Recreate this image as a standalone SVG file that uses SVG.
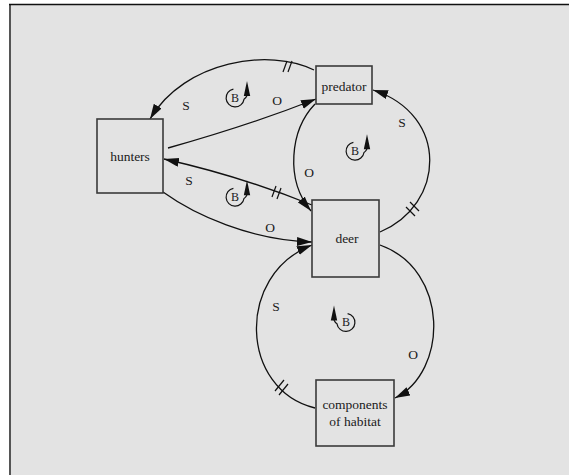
<svg xmlns="http://www.w3.org/2000/svg" width="569" height="475" viewBox="0 0 569 475">
  <style>
    .node rect { fill: none; stroke: #3a3a3a; stroke-width: 1.6; }
    .node text, .lbl { font-family: "Liberation Serif", "Times New Roman", serif; font-size: 13.5px; fill: #1a1a1a; text-anchor: middle; }
    .link { fill: none; stroke: #111; stroke-width: 1.3; marker-end: url(#head); }
    .hash { stroke: #111; stroke-width: 1.2; }
    .loop text { font-family: "Liberation Serif", "Times New Roman", serif; font-size: 12px; fill: #1a1a1a; text-anchor: middle; }
  </style>
  <defs>
    <marker id="head" markerUnits="userSpaceOnUse" markerWidth="16" markerHeight="10" refX="15" refY="4.5" orient="auto">
      <path d="M0,0 L15,4.5 L0,9 z" fill="#111"/>
    </marker>
    <!-- balancing-loop symbol: open circle with an upward arrow on its right -->
    <g id="loopR">
      <path d="M-1.6,-8.4 A9,9 0 1,0 9,1.8 Q11,0.5 12,-2" fill="none" stroke="#111" stroke-width="1.2"/>
      <polygon points="12,-16.5 15.2,-1.5 8.8,-1.5" fill="#111"/>
    </g>
  </defs>

  <!-- frame -->
  <rect x="9" y="4" width="560" height="471" fill="#e3e3e3"/>
  <line x1="10" y1="4" x2="10" y2="475" stroke="#555" stroke-width="2"/>
  <line x1="9" y1="4.5" x2="569" y2="4.5" stroke="#111" stroke-width="1.5"/>

  <!-- connectors -->
  <g id="connectors">
    <path class="link" d="M314,70 C270,48 185,60 150,119"/>
    <path class="link" d="M168,148 Q250,125 316,99"/>
    <path class="link" d="M315,104 C290,130 285,180 311,211"/>
    <path class="link" d="M380,232 C445,205 450,115 373,90"/>
    <path class="link" d="M312,205 Q240,176 164,159"/>
    <path class="link" d="M163,192 C195,215 250,240 312,242"/>
    <path class="link" d="M380,245 C450,270 448,372 395,398"/>
    <path class="link" d="M315,408 C240,390 235,275 312,245"/>

    <!-- delay marks -->
    <line class="hash" x1="283" y1="72" x2="287" y2="61"/>
    <line class="hash" x1="288" y1="72" x2="292" y2="61"/>
    <line class="hash" x1="406" y1="207" x2="415" y2="216"/>
    <line class="hash" x1="410" y1="202" x2="419" y2="211"/>
    <line class="hash" x1="272" y1="197" x2="276" y2="186"/>
    <line class="hash" x1="277" y1="199" x2="281" y2="188"/>
    <line class="hash" x1="275" y1="391" x2="284" y2="380"/>
    <line class="hash" x1="279" y1="395" x2="288" y2="384"/>

    <!-- link polarities -->
    <text class="lbl" x="186" y="110">S</text>
    <text class="lbl" x="277" y="105">O</text>
    <text class="lbl" x="402" y="127">S</text>
    <text class="lbl" x="309" y="177">O</text>
    <text class="lbl" x="189" y="185">S</text>
    <text class="lbl" x="270" y="232">O</text>
    <text class="lbl" x="276" y="311">S</text>
    <text class="lbl" x="413" y="359">O</text>
  </g>

  <!-- loop markers -->
  <g id="loop1" class="loop" transform="translate(235,97.5)">
    <use href="#loopR"/><text x="0" y="4.3">B</text>
  </g>
  <g id="loop2" class="loop" transform="translate(355,150.7)">
    <use href="#loopR"/><text x="0" y="4.3">B</text>
  </g>
  <g id="loop3" class="loop" transform="translate(235,196.7)">
    <use href="#loopR"/><text x="0" y="4.3">B</text>
  </g>
  <g id="loop4" class="loop" transform="translate(346,322)">
    <use href="#loopR" transform="scale(-1,1)"/><text x="0" y="4.3">B</text>
  </g>

  <!-- nodes -->
  <g id="predator" class="node">
    <rect x="316" y="66" width="56" height="38"/>
    <text x="344" y="90.5">predator</text>
  </g>
  <g id="hunters" class="node">
    <rect x="97" y="119" width="66" height="74"/>
    <text x="130" y="161">hunters</text>
  </g>
  <g id="deer" class="node">
    <rect x="312" y="200" width="67" height="77"/>
    <text x="347" y="243">deer</text>
  </g>
  <g id="habitat" class="node">
    <rect x="316" y="380" width="78" height="66"/>
    <text x="355" y="409">components</text>
    <text x="355" y="426">of habitat</text>
  </g>
</svg>
